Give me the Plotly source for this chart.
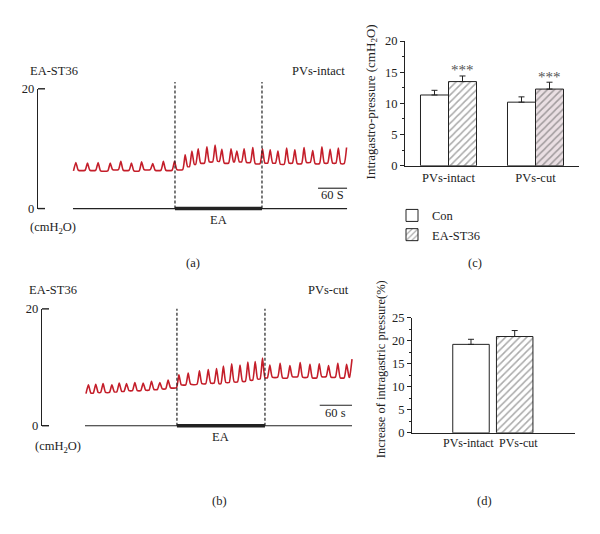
import plotly.graph_objects as go

W, H = 600, 534
FONT = "Liberation Serif, Times New Roman, serif"
INK = "#222222"
TRACE_RED = "#c41e2a"

# ---------------- data ----------------
# panel (a): EA-ST36, PVs-intact pressure recording (time in s, pressure in cmH2O)
a_peak_time_s = [6, 30, 52, 77, 99, 121, 142, 165, 187, 210,
                 232, 246, 259, 277, 294, 308, 327, 339, 354, 372,
                 392, 408, 424, 442, 459, 478, 496, 515, 532, 549, 566]
a_peak_cmH2O = [7.7, 7.6, 7.7, 7.6, 7.9, 7.6, 7.8, 7.5, 7.9, 7.9,
                9.0, 9.6, 10.0, 10.3, 10.6, 9.9, 10.0, 9.6, 10.0, 10.2,
                10.0, 9.8, 9.6, 10.1, 9.8, 10.2, 9.7, 10.3, 9.9, 10.1, 10.2]
a_trough_cmH2O = [6.3, 6.4, 6.4, 6.3, 6.5, 6.4, 6.3, 6.5, 6.4, 6.4,
                  6.5, 7.0, 7.4, 7.6, 7.8, 7.9, 7.6, 7.8, 7.8, 7.7,
                  7.5, 7.6, 7.6, 7.4, 7.6, 7.5, 7.7, 7.5, 7.6, 7.6, 7.5]
a_ea_window_s = [211, 391]
a_trace_span_s = [0, 567]
a_scale_bar_s = [507, 567]

# panel (b): EA-ST36, PVs-cut pressure recording
b_peak_time_s = [7, 22, 37, 55, 70, 85, 102, 119, 136, 153, 170,
                 192, 211, 234, 252, 269, 283, 300, 317, 333, 348, 363,
                 378, 399, 419, 440, 460, 479, 498, 517, 535, 546]
b_peak_cmH2O = [7.0, 7.1, 7.2, 7.0, 7.3, 7.2, 7.4, 7.3, 7.6, 7.4, 7.8,
                8.7, 9.0, 9.4, 9.6, 9.8, 10.2, 10.6, 10.4, 10.9, 11.0, 11.6,
                10.4, 10.7, 10.3, 10.8, 10.5, 10.6, 10.3, 10.7, 10.5, 11.4]
b_trough_cmH2O = [5.5, 5.6, 5.7, 5.7, 5.8, 5.9, 6.0, 6.0, 6.1, 6.2, 6.3,
                  6.5, 7.0, 7.1, 7.2, 7.3, 7.2, 7.4, 7.5, 7.6, 7.8, 8.0,
                  8.2, 8.3, 8.2, 8.4, 8.3, 8.2, 8.4, 8.3, 8.2, 8.3]
b_ea_window_s = [188, 368]
b_trace_span_s = [0, 546]
b_scale_bar_s = [480, 546]

# panel (c): intragastric pressure (cmH2O), mean and SE
c_groups = ["PVs-intact", "PVs-cut"]
c_con = [11.35, 10.2]
c_con_se = [0.75, 0.85]
c_ea = [13.5, 12.3]
c_ea_se = [0.9, 1.1]
c_sig = ["***", "***"]

# panel (d): increase of intragastric pressure (%)
d_groups = ["PVs-intact", "PVs-cut"]
d_increase = [19.2, 20.9]
d_increase_se = [1.1, 1.3]

HW = 5  # half width (s) of each contraction peak when drawing the trace


def waveform(peak_t, peak_v, trough_v):
    xs, ys = [], []
    for i, (t, p, tr) in enumerate(zip(peak_t, peak_v, trough_v)):
        if i > 0:
            xs.append(peak_t[i - 1] + HW)
            ys.append(tr)
        xs.append(t - HW)
        ys.append(tr)
        xs.append(t)
        ys.append(p)
    return xs, ys


def px_x(px):
    return px / W


def px_y(py):
    return 1 - py / H


def mapper(dom, rng):
    def f(v):
        return dom[0] + (v - rng[0]) / (rng[1] - rng[0]) * (dom[1] - dom[0])
    return f


# geometry of the recording panels
A_XDOM = [px_x(38), px_x(350)]
A_XRNG = [-72.4, 573.1]
A_YDOM = [px_y(207), px_y(84)]
B_XDOM = [px_x(42), px_x(355)]
B_XRNG = [-87.9, 552.1]
B_YDOM = [px_y(430), px_y(310)]
Y_RNG = [0, 20]

ax_fx, ax_fy = mapper(A_XDOM, A_XRNG), mapper(A_YDOM, Y_RNG)
bx_fx, bx_fy = mapper(B_XDOM, B_XRNG), mapper(B_YDOM, Y_RNG)

fig = go.Figure()

trace_line = dict(color=TRACE_RED, width=1.6, shape="spline", smoothing=0.5)
ax, ay = waveform(a_peak_time_s, a_peak_cmH2O, a_trough_cmH2O)
fig.add_trace(go.Scatter(x=ax, y=ay, mode="lines", line=trace_line,
                         xaxis="x", yaxis="y", showlegend=False, hoverinfo="skip"))
bx, by = waveform(b_peak_time_s, b_peak_cmH2O, b_trough_cmH2O)
fig.add_trace(go.Scatter(x=bx, y=by, mode="lines", line=trace_line,
                         xaxis="x2", yaxis="y2", showlegend=False, hoverinfo="skip"))

bar_line = dict(color=INK, width=1)
hatch = dict(shape="/", fgcolor="#555555", size=5, solidity=0.3)

C_W = 0.322
fig.add_trace(go.Bar(x=c_groups, y=c_con, name="Con", width=C_W, offset=-C_W,
                     marker=dict(color="white", line=bar_line),
                     error_y=dict(type="data", array=c_con_se, arrayminus=[0] * len(c_con),
                                  symmetric=False, color=INK, thickness=1, width=3),
                     xaxis="x3", yaxis="y3"))
fig.add_trace(go.Bar(x=c_groups, y=c_ea, name="EA-ST36", width=C_W, offset=0,
                     marker=dict(color="white", line=bar_line,
                                 pattern=dict(hatch, bgcolor=["white", "#eadfe3"])),
                     error_y=dict(type="data", array=c_ea_se, arrayminus=[0] * len(c_ea),
                                  symmetric=False, color=INK, thickness=1, width=3),
                     xaxis="x3", yaxis="y3"))

D_W = 0.835
fig.add_trace(go.Bar(x=d_groups[:1], y=d_increase[:1], width=D_W, offset=-D_W / 2,
                     marker=dict(color="white", line=bar_line), showlegend=False,
                     error_y=dict(type="data", array=d_increase_se[:1], arrayminus=[0],
                                  symmetric=False, color=INK, thickness=1, width=3),
                     xaxis="x4", yaxis="y4"))
fig.add_trace(go.Bar(x=d_groups[1:], y=d_increase[1:], width=D_W, offset=-D_W / 2,
                     marker=dict(color="white", line=bar_line, pattern=dict(hatch, bgcolor="white")),
                     showlegend=False,
                     error_y=dict(type="data", array=d_increase_se[1:], arrayminus=[0],
                                  symmetric=False, color=INK, thickness=1, width=3),
                     xaxis="x4", yaxis="y4"))

hidden_x = dict(showline=False, showticklabels=False, showgrid=False, zeroline=False, ticks="")
scale_y = dict(range=Y_RNG, tickvals=[0, 20], ticks="inside", ticklen=7, tickwidth=1.4,
               tickcolor=INK, showline=True, linewidth=1.4, linecolor=INK, showgrid=False,
               zeroline=False, tickfont=dict(size=12.5))
bar_y = dict(showline=True, linewidth=1.2, linecolor=INK, ticks="outside", ticklen=4,
             tickwidth=1, tickcolor=INK, showgrid=False, zeroline=False,
             minor=dict(ticks="outside", ticklen=2, tickcolor=INK, dtick=2.5),
             tickfont=dict(size=12.5))
bar_x = dict(type="category", showline=True, linewidth=1.2, linecolor=INK, ticks="",
             showgrid=False, zeroline=False, tickangle=0)

fig.update_layout(
    xaxis=dict(hidden_x, domain=A_XDOM, range=A_XRNG, anchor="y"),
    yaxis=dict(scale_y, domain=A_YDOM, anchor="x"),
    xaxis2=dict(hidden_x, domain=B_XDOM, range=B_XRNG, anchor="y2"),
    yaxis2=dict(scale_y, domain=B_YDOM, anchor="x2"),
    xaxis3=dict(bar_x, domain=[px_x(405), px_x(579)], range=[-0.5, 1.5], anchor="y3",
                categoryorder="array", categoryarray=c_groups, tickfont=dict(size=12.5)),
    yaxis3=dict(bar_y, domain=[px_y(163), px_y(35)], range=[0, 20], dtick=5, anchor="x3"),
    xaxis4=dict(bar_x, domain=[px_x(412), px_x(575)], range=[-1.35, 2.38], anchor="y4",
                categoryorder="array", categoryarray=d_groups, showticklabels=False),
    yaxis4=dict(bar_y, domain=[px_y(437.3), px_y(319)], range=[0, 25], dtick=5, anchor="x4"),
)

shapes = []


def hline(x0, x1, y, width, dash=None):
    shapes.append(dict(type="line", xref="paper", yref="paper", x0=x0, x1=x1, y0=y, y1=y,
                       line=dict(color=INK, width=width, dash=dash)))


def vline(x, y0, y1, dash="3px,2px"):
    shapes.append(dict(type="line", xref="paper", yref="paper", x0=x, x1=x, y0=y0, y1=y1,
                       line=dict(color=INK, width=1.2, dash=dash)))


# panel a decorations
hline(ax_fx(a_trace_span_s[0]), ax_fx(a_trace_span_s[1]), ax_fy(0), 1.2)
hline(ax_fx(a_ea_window_s[0]), ax_fx(a_ea_window_s[1]), ax_fy(0), 3.5)
for t in a_ea_window_s:
    vline(ax_fx(t), ax_fy(0), px_y(77))
hline(ax_fx(a_scale_bar_s[0]), ax_fx(a_scale_bar_s[1]), ax_fy(3.4), 1.1)
for v in Y_RNG:  # end caps of the pressure scale bar
    hline(A_XDOM[0], A_XDOM[0] + px_x(7), ax_fy(v), 1.4)

# panel b decorations
hline(bx_fx(b_trace_span_s[0]), bx_fx(b_trace_span_s[1]), bx_fy(0), 1.2)
hline(bx_fx(b_ea_window_s[0]), bx_fx(b_ea_window_s[1]), bx_fy(0), 3.5)
for t in b_ea_window_s:
    vline(bx_fx(t), bx_fy(0), bx_fy(20))
hline(bx_fx(b_scale_bar_s[0]), bx_fx(b_scale_bar_s[1]), bx_fy(3.5), 1.1)
for v in Y_RNG:
    hline(B_XDOM[0], B_XDOM[0] + px_x(7), bx_fy(v), 1.4)

annotations = []


def note(text, x, y, xanchor="center", size=12.5, angle=0, color=INK):
    annotations.append(dict(text=text, x=x, y=y, xref="paper", yref="paper", xanchor=xanchor,
                            yanchor="middle", showarrow=False, textangle=angle,
                            font=dict(size=size, color=color, family=FONT)))


note("EA-ST36", px_x(28), px_y(66), "left")
note("PVs-intact", px_x(347), px_y(66), "right")
note("(cmH<sub>2</sub>O)", px_x(28), px_y(227), "left")
note("EA", ax_fx(sum(a_ea_window_s) / 2), px_y(219))
note("60 S", ax_fx(sum(a_scale_bar_s) / 2), px_y(193))
note("(a)", px_x(193), px_y(263))

note("EA-ST36", px_x(27), px_y(291), "left")
note("PVs-cut", px_x(351), px_y(291), "right")
note("(cmH<sub>2</sub>O)", px_x(33), px_y(452), "left")
note("EA", bx_fx(sum(b_ea_window_s) / 2), px_y(442))
note("60 s", bx_fx(sum(b_scale_bar_s) / 2), px_y(417))
note("(b)", px_x(220), px_y(507))

note("Intragastro-pressure (cmH<sub>2</sub>O)", px_x(371), px_y(98), size=13, angle=-90)
note("(c)", px_x(475), px_y(263))
note("Increase of intragastric pressure(%)", px_x(381), px_y(372), size=12.5, angle=-90)
note("(d)", px_x(484), px_y(507))

for i, s in enumerate(c_sig):
    annotations.append(dict(text=s, x=i + C_W / 2, y=c_ea[i] + c_ea_se[i] + 0.9, xref="x3",
                            yref="y3", showarrow=False, yanchor="middle",
                            font=dict(size=15, color="#555555", family=FONT)))

# category labels of panel (d), nudged apart as in the original
for i, (g, shift) in enumerate(zip(d_groups, [-2.5, 3.5])):
    annotations.append(dict(text=g, x=g, y=0, xref="x4", yref="y4", yanchor="top",
                            xanchor="center", xshift=shift, yshift=-1, showarrow=False,
                            font=dict(size=12, color=INK, family=FONT)))

fig.update_layout(
    width=W, height=H, margin=dict(l=0, r=0, t=0, b=0),
    paper_bgcolor="white", plot_bgcolor="rgba(0,0,0,0)",
    font=dict(family=FONT, size=12.5, color=INK),
    barmode="overlay", shapes=shapes, annotations=annotations,
    showlegend=True,
    legend=dict(x=px_x(392), y=px_y(199), xanchor="left", yanchor="top",
                bgcolor="rgba(0,0,0,0)", font=dict(size=12.5), tracegroupgap=0,
                itemwidth=30, traceorder="normal"),
)

fig.write_html("out.html", config={"displayModeBar": False},
               post_script="document.body.style.margin='0';")
